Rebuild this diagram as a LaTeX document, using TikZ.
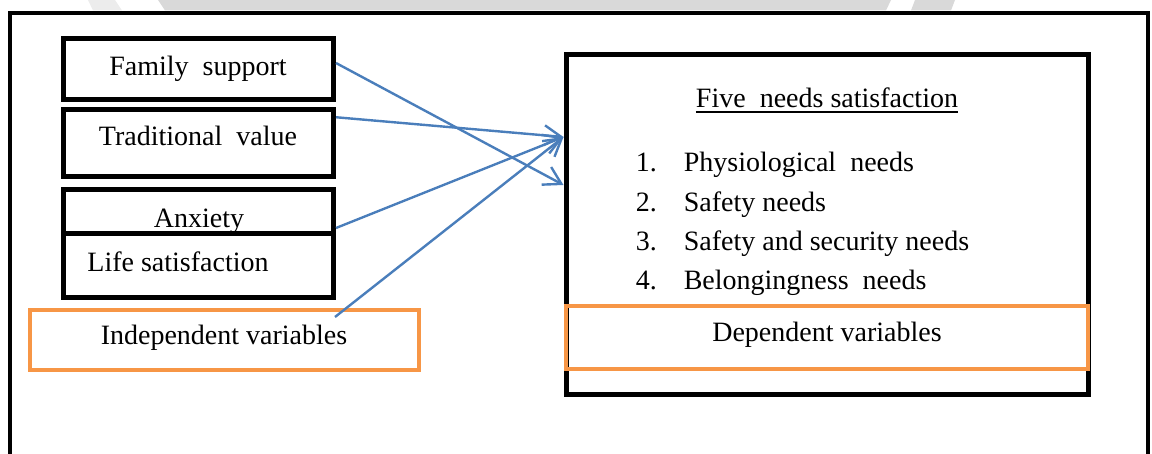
\documentclass[tikz,border=0pt]{standalone}
\usepackage{fontspec}
\setmainfont{Liberation Serif}
\usetikzlibrary{arrows.meta,calc}
\definecolor{arrowblue}{RGB}{74,126,187}
\definecolor{boxorange}{RGB}{247,150,70}
\definecolor{wmgray}{RGB}{217,217,217}
\definecolor{wmlight}{RGB}{236,236,236}
\begin{document}
\begin{tikzpicture}[x=1pt,y=-1pt,
  blackbox/.style={draw=black,line width=5pt,inner sep=0pt},
  orangebox/.style={draw=boxorange,line width=4pt,inner sep=0pt},
  txt/.style={inner sep=0pt,font=\fontsize{28}{34}\selectfont,anchor=base},
  txtl/.style={inner sep=0pt,font=\fontsize{28}{34}\selectfont,anchor=base west},
  link/.style={draw=arrowblue,line width=2.4pt,
    -{Straight Barb[length=17pt,width=20pt,line width=2.4pt]}}]
\useasboundingbox (0,0) rectangle (1152,454);
% watermark band at top
\fill[wmlight] (88,0) -- (115,0) -- (122,10.5) -- (93,10.5) -- cycle;
\fill[wmgray] (158,0) -- (891,0) -- (886,10.5) -- (165,10.5) -- cycle;
\fill[wmgray] (915,0) -- (955,0) -- (951,10.5) -- (911,10.5) -- cycle;
% outer frame (bottom edge outside the picture)
\draw[line width=4pt] (10,470) -- (10,13) -- (1148,13) -- (1148,470);
% left boxes
\node[blackbox,minimum width=270pt,minimum height=61.5pt] (fam) at (198.5,69.25) {};
\node[blackbox,minimum width=270pt,minimum height=66.5pt] (trad) at (198.5,143.25) {};
\node[blackbox,minimum width=270pt,minimum height=44pt] (anx) at (198.5,212) {};
\node[txt] (famt) at (198,76) {Family~ support};
\node[txt] (tradt) at (198,145.7) {Traditional~ value};
\node[txt] (anxt) at (199,227.7) {Anxiety};
\node[blackbox,minimum width=270pt,minimum height=64pt] (life) at (198.5,266) {};
\node[txt] (lifet) at (178,271.7) {Life satisfaction};
\node[orangebox,minimum width=388.5pt,minimum height=60.5pt] (indep) at (224.25,340.25) {};
\node[txt] (indept) at (224,345) {Independent variables};
% right box
\node[blackbox,minimum width=522pt,minimum height=340pt] (rb) at (827,225) {};
\node[txt] (title) at (827,107.3) {Five~ needs satisfaction};
\draw[line width=1.6pt] ($(title.base west)+(0,5)$) -- ($(title.base east)+(0,5)$);
\node[txtl] (n1) at (635.6,171.7) {\makebox[48pt][l]{1.}Physiological~ needs};
\node[txtl] (n2) at (635.6,211.7) {\makebox[48pt][l]{2.}Safety needs};
\node[txtl] (n3) at (635.6,250.3) {\makebox[48pt][l]{3.}Safety and security needs};
\node[txtl] (n4) at (635.6,289.3) {\makebox[48pt][l]{4.}Belongingness~ needs};
\node[orangebox,minimum width=522pt,minimum height=63pt] (dep) at (827,337.5) {};
\node[txt] (dept) at (827,341.7) {Dependent variables};
% connectors
\coordinate (s1) at ($(fam.east)+(0,-6.25)$);
\coordinate (s2) at ($(trad.east)+(0,-26)$);
\coordinate (s3) at ($(anx.east)+(0,16)$);
\coordinate (s4) at ($(indep.north west)+(307,9)$);
\coordinate (e1) at ($(rb.west)+(0,-40)$);
\coordinate (e2) at ($(rb.west)+(0,-88)$);
\draw[link] (s1) -- (e1);
\draw[link] (s2) -- (e2);
\draw[link] (s3) -- (e2);
\draw[link] (s4) -- (e2);
\end{tikzpicture}
\end{document}
